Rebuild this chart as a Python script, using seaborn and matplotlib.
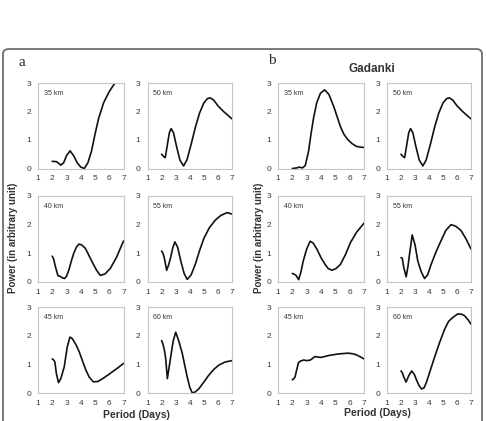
import matplotlib
matplotlib.use("Agg")
import matplotlib.pyplot as plt
import seaborn as sns
import pandas as pd
from matplotlib.patches import FancyBboxPatch

sns.set_style("white")
plt.rcParams['font.family'] = ['Liberation Sans', 'DejaVu Sans']

# ---- data: Period (days) vs Power (arbitrary unit) ----
a35_x = [2.0, 2.3, 2.6, 2.8, 3.0, 3.25, 3.5, 3.75, 4.0, 4.25, 4.5, 4.75, 5.0, 5.25, 5.6, 6.0, 6.4, 6.6]
a35_y = [0.25, 0.24, 0.12, 0.2, 0.45, 0.62, 0.45, 0.2, 0.05, 0.0, 0.2, 0.6, 1.2, 1.75, 2.3, 2.7, 3.0, 3.2]
a50_x = [2.0, 2.15, 2.26, 2.4, 2.55, 2.68, 2.85, 3.05, 3.3, 3.56, 3.8, 4.1, 4.4, 4.7, 5.0, 5.25, 5.45, 5.7, 6.0, 6.4, 7.0]
a50_y = [0.5, 0.42, 0.38, 0.8, 1.25, 1.4, 1.25, 0.8, 0.3, 0.09, 0.3, 0.85, 1.45, 1.95, 2.3, 2.45, 2.48, 2.4, 2.2, 2.0, 1.74]
a40_x = [2.0, 2.1, 2.23, 2.4, 2.55, 2.7, 2.86, 3.0, 3.16, 3.35, 3.5, 3.7, 3.86, 4.05, 4.33, 4.55, 4.8, 5.1, 5.37, 5.7, 6.07, 6.5, 7.0]
a40_y = [0.9, 0.8, 0.52, 0.22, 0.2, 0.15, 0.12, 0.2, 0.41, 0.75, 0.99, 1.22, 1.32, 1.3, 1.17, 0.95, 0.7, 0.42, 0.23, 0.28, 0.47, 0.85, 1.43]
a55_x = [2.0, 2.1, 2.18, 2.36, 2.5, 2.65, 2.8, 2.95, 3.15, 3.35, 3.6, 3.82, 4.1, 4.41, 4.7, 5.0, 5.4, 5.82, 6.2, 6.65, 7.0]
a55_y = [1.08, 1.0, 0.87, 0.41, 0.6, 0.87, 1.2, 1.4, 1.2, 0.76, 0.3, 0.09, 0.25, 0.64, 1.1, 1.52, 1.9, 2.16, 2.32, 2.42, 2.37]
a45_x = [2.0, 2.1, 2.18, 2.29, 2.44, 2.6, 2.84, 3.05, 3.24, 3.4, 3.54, 3.7, 3.89, 4.1, 4.36, 4.6, 4.88, 5.2, 5.54, 6.0, 6.5, 7.0]
a45_y = [1.19, 1.15, 1.09, 0.68, 0.36, 0.5, 0.91, 1.6, 1.95, 1.9, 1.79, 1.65, 1.44, 1.15, 0.8, 0.55, 0.39, 0.4, 0.5, 0.66, 0.84, 1.03]
a60_x = [2.0, 2.1, 2.2, 2.29, 2.41, 2.52, 2.65, 2.82, 3.0, 3.2, 3.47, 3.65, 3.82, 4.0, 4.18, 4.4, 4.65, 5.0, 5.35, 5.7, 6.06, 6.5, 7.0]
a60_y = [1.83, 1.7, 1.5, 1.21, 0.5, 0.85, 1.27, 1.8, 2.12, 1.85, 1.38, 0.95, 0.56, 0.2, 0.0, 0.04, 0.15, 0.38, 0.62, 0.82, 0.97, 1.08, 1.13]

b35_x = [2.0, 2.3, 2.5, 2.7, 2.9, 3.13, 3.3, 3.49, 3.7, 3.96, 4.25, 4.55, 4.9, 5.15, 5.38, 5.6, 5.86, 6.15, 6.45, 6.75, 7.0]
b35_y = [0.0, 0.02, 0.05, 0.02, 0.1, 0.6, 1.2, 1.8, 2.3, 2.64, 2.76, 2.6, 2.16, 1.78, 1.44, 1.2, 1.02, 0.88, 0.78, 0.75, 0.74]
b50_x = a50_x
b50_y = a50_y
b40_x = [2.0, 2.25, 2.44, 2.6, 2.76, 3.0, 3.24, 3.45, 3.71, 4.0, 4.29, 4.5, 4.76, 5.05, 5.35, 5.7, 6.06, 6.5, 7.0]
b40_y = [0.3, 0.24, 0.08, 0.35, 0.73, 1.15, 1.42, 1.36, 1.15, 0.85, 0.61, 0.47, 0.41, 0.47, 0.61, 0.95, 1.38, 1.75, 2.05]
b55_x = [2.0, 2.09, 2.2, 2.37, 2.5, 2.61, 2.8, 3.0, 3.2, 3.45, 3.68, 3.9, 4.15, 4.5, 4.86, 5.2, 5.57, 5.9, 6.28, 6.65, 7.0]
b55_y = [0.85, 0.83, 0.5, 0.18, 0.55, 0.97, 1.64, 1.3, 0.73, 0.35, 0.12, 0.25, 0.61, 1.05, 1.44, 1.8, 2.0, 1.95, 1.8, 1.5, 1.15]
b45_x = [2.0, 2.1, 2.19, 2.3, 2.43, 2.6, 2.79, 3.02, 3.26, 3.57, 3.98, 4.57, 5.17, 5.88, 6.2, 6.48, 7.0]
b45_y = [0.46, 0.5, 0.56, 0.8, 1.06, 1.12, 1.15, 1.13, 1.15, 1.27, 1.24, 1.31, 1.36, 1.39, 1.37, 1.33, 1.19]
b60_x = [2.0, 2.1, 2.18, 2.36, 2.55, 2.76, 2.95, 3.12, 3.3, 3.47, 3.65, 3.82, 4.1, 4.41, 4.75, 5.12, 5.4, 5.71, 6.06, 6.3, 6.53, 6.8, 7.0]
b60_y = [0.77, 0.7, 0.58, 0.38, 0.6, 0.77, 0.65, 0.44, 0.25, 0.14, 0.18, 0.38, 0.8, 1.27, 1.75, 2.23, 2.5, 2.64, 2.76, 2.75, 2.7, 2.55, 2.4]

labels_a = ["35 km", "50 km", "40 km", "55 km", "45 km", "60 km"]
labels_b = ["35 km", "50 km", "40 km", "55 km", "45 km", "60 km"]
x_ticks = [1, 2, 3, 4, 5, 6, 7]
y_ticks = [0, 1, 2, 3]

W, H = 486, 421
fig = plt.figure(figsize=(W / 100, H / 100), dpi=100)

# outer rounded frame
frame = FancyBboxPatch((3 / W, -0.05), 479 / W, 1 - 49 / H + 0.05,
                       boxstyle="round,pad=0,rounding_size=0.012",
                       transform=fig.transFigure, fill=False,
                       edgecolor="#6e6e6e", linewidth=1.3, zorder=0)
fig.patches.append(frame)

cols_a = [(38, 123.5), (147.5, 232)]
cols_b = [(278, 364), (387, 471)]
rows = [(83, 168.5), (196, 282), (307, 393)]

def make_ax(xr, yr):
    x0, x1 = xr
    y0, y1 = yr
    return fig.add_axes([x0 / W, 1 - y1 / H, (x1 - x0) / W, (y1 - y0) / H])

def style(ax, label):
    ax.set_xlim(1, 7)
    ax.set_ylim(0, 3)
    ax.set_xticks(x_ticks)
    ax.set_yticks(y_ticks)
    ax.tick_params(labelsize=6, colors="#bdbdbd", labelcolor="#3a3a3a",
                   length=2, width=0.6, pad=3, direction="out")
    for s in ax.spines.values():
        s.set_color("#c4c4c4")
        s.set_linewidth(0.8)
    ax.set_xlabel("")
    ax.set_ylabel("")
    ax.text(0.07, 0.88, label, transform=ax.transAxes, fontsize=5,
            color="#333333", ha="left", va="center")

series_a = [(a35_x, a35_y), (a50_x, a50_y), (a40_x, a40_y),
            (a55_x, a55_y), (a45_x, a45_y), (a60_x, a60_y)]
series_b = [(b35_x, b35_y), (b50_x, b50_y), (b40_x, b40_y),
            (b55_x, b55_y), (b45_x, b45_y), (b60_x, b60_y)]

for cols, series, labels in [(cols_a, series_a, labels_a), (cols_b, series_b, labels_b)]:
    for i, (xs, ys) in enumerate(series):
        r, c = divmod(i, 2)
        ax = make_ax(cols[c], rows[r])
        df = pd.DataFrame({"period": xs, "power": ys})
        sns.lineplot(data=df, x="period", y="power", ax=ax, color="#111111",
                     linewidth=1.2, sort=False)
        style(ax, labels[i])

# panel letters
fig.text(22 / W, 1 - 62 / H, "a", fontsize=11, family="Liberation Serif", ha="center", va="center")
fig.text(272 / W, 1 - 61 / H, "b", fontsize=11, family="Liberation Serif", ha="center", va="center")
fig.text(372 / W, 1 - 69 / H, "Gadanki", fontsize=8.5, fontweight="bold", color="#333333",
         ha="center", va="center")

# axis labels
fig.text(13 / W, 1 - 238 / H, "Power (in arbitrary unit)", fontsize=7, fontweight="bold",
         rotation=90, ha="center", va="center", color="#333333")
fig.text(259 / W, 1 - 238 / H, "Power (in arbitrary unit)", fontsize=7, fontweight="bold",
         rotation=90, ha="center", va="center", color="#333333")
fig.text(136 / W, 1 - 415.5 / H, "Period (Days)", fontsize=7.5, fontweight="bold",
         ha="center", va="center", color="#333333")
fig.text(377 / W, 1 - 413 / H, "Period (Days)", fontsize=7.5, fontweight="bold",
         ha="center", va="center", color="#333333")

fig.savefig("out.png", dpi=100)
